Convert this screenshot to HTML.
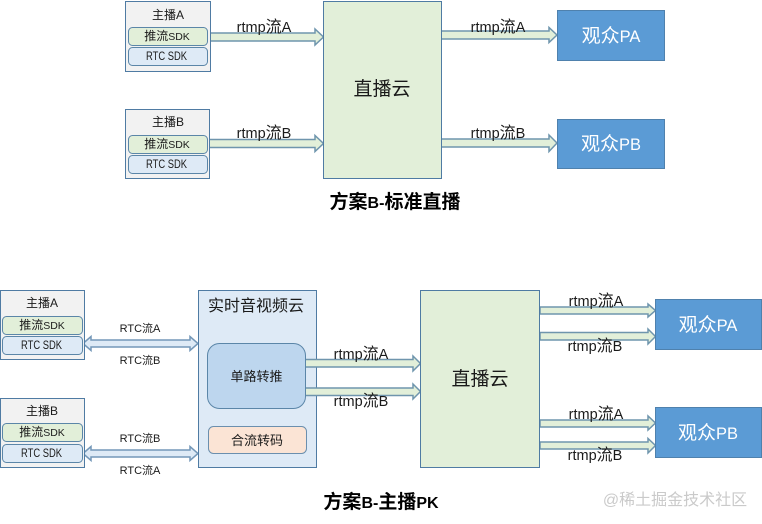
<!DOCTYPE html>
<html><head><meta charset="utf-8">
<style>
html,body{margin:0;padding:0;background:#fff;width:762px;height:524px;overflow:hidden}
svg{display:block}
text{font-family:"Liberation Sans","Noto Sans CJK SC",sans-serif;fill:#1a1a1a;text-anchor:middle}
.b{stroke:#4f7ba3;stroke-width:1}
.host{fill:#f2f2f2}
.push{fill:#e2efd9;stroke:#5b86a8;stroke-width:1}
.rtc{fill:#deeaf6;stroke:#5b86a8;stroke-width:1}
.cloud{fill:#e2efd9}
.view{fill:#5b9bd5;stroke:#4f81ad;stroke-width:1}
.arr{fill:#e2efd9;stroke:#6f95ad;stroke-width:1.5}
.darr{fill:#deeaf6;stroke:#7397b8;stroke-width:1.5}
.s12{font-size:12px}.s11{font-size:12px}
.m{font-size:16px}.m tspan{font-size:14.5px}
.sdk{font-size:12px}.sdk tspan{font-size:10.5px}
.r{font-size:11px}
.v{font-size:19px}.v tspan{font-size:16.5px}
.w{fill:#fff}
.t{font-size:19px;font-weight:bold;fill:#000}.t tspan{font-size:16px}
</style></head><body>
<svg width="762" height="524" viewBox="0 0 762 524" xmlns="http://www.w3.org/2000/svg">
<!-- top arrows -->
<polygon class="arr" points="208,33 315,33 315,29 323.5,37 315,45 315,41 208,41"/>
<polygon class="arr" points="208,139.5 315,139.5 315,135.5 323.5,143.5 315,151.5 315,147.5 208,147.5"/>
<polygon class="arr" points="441,31 549,31 549,27.5 557,35 549,42.5 549,39 441,39"/>
<polygon class="arr" points="441,139 549,139 549,135 557,143 549,151.5 549,147 441,147"/>
<!-- top hosts -->
<rect class="host b" x="125.5" y="1.5" width="85" height="70"/>
<rect class="push" x="128.5" y="27.5" width="79" height="18" rx="4"/>
<rect class="rtc" x="128.5" y="47.5" width="79" height="18" rx="4"/>
<text class="s12" x="168" y="19">主播A</text>
<text class="sdk" x="167" y="40">推流<tspan>SDK</tspan></text>
<text class="s11" x="166.5" y="60" textLength="41" lengthAdjust="spacingAndGlyphs">RTC SDK</text>
<rect class="host b" x="125.5" y="109.5" width="84" height="69"/>
<rect class="push" x="128.5" y="135.5" width="79" height="18" rx="4"/>
<rect class="rtc" x="128.5" y="155.5" width="79" height="18" rx="4"/>
<text class="s12" x="168" y="126">主播B</text>
<text class="sdk" x="167" y="148">推流<tspan>SDK</tspan></text>
<text class="s11" x="166.5" y="168" textLength="41" lengthAdjust="spacingAndGlyphs">RTC SDK</text>
<!-- top cloud and viewers -->
<rect class="cloud b" x="323.5" y="1.5" width="118" height="177"/>
<text style="font-size:19px" x="382" y="95">直播云</text>
<rect class="view" x="557.5" y="10.5" width="107" height="50"/>
<rect class="view" x="557.5" y="119.5" width="107" height="49"/>
<text class="v w" x="611" y="42">观众<tspan class="w">PA</tspan></text>
<text class="v w" x="611" y="150">观众<tspan class="w">PB</tspan></text>
<text class="m" x="264" y="32"><tspan>rtmp</tspan>流<tspan>A</tspan></text>
<text class="m" x="264" y="138"><tspan>rtmp</tspan>流<tspan>B</tspan></text>
<text class="m" x="498" y="32"><tspan>rtmp</tspan>流<tspan>A</tspan></text>
<text class="m" x="498" y="138"><tspan>rtmp</tspan>流<tspan>B</tspan></text>
<text class="t" x="395" y="208">方案<tspan>B-</tspan>标准直播</text>

<!-- bottom double arrows -->
<polygon class="darr" points="83,343.5 91,336.5 91,340 190,340 190,336.5 198,343.5 190,350.5 190,347 91,347 91,350.5"/>
<polygon class="darr" points="83,453.5 91,446.5 91,450 190,450 190,446.5 198,453.5 190,460.5 190,457 91,457 91,460.5"/>
<!-- right arrows -->
<polygon class="arr" points="540,307 648,307 648,304 655.5,310.5 648,317 648,314 540,314"/>
<polygon class="arr" points="540,332.5 648,332.5 648,329 655.5,336.5 648,344 648,340 540,340"/>
<polygon class="arr" points="540,420 648,420 648,416 655.5,423 648,430 648,427 540,427"/>
<polygon class="arr" points="540,442 648,442 648,438.5 655.5,445.5 648,453 648,449 540,449"/>
<!-- bottom hosts -->
<rect class="host b" x="0.5" y="290.5" width="84" height="69"/>
<rect class="push" x="2.5" y="316.5" width="80" height="18" rx="4"/>
<rect class="rtc" x="2.5" y="336.5" width="80" height="18" rx="4"/>
<text class="s12" x="42" y="307">主播A</text>
<text class="sdk" x="42" y="329">推流<tspan>SDK</tspan></text>
<text class="s11" x="41.5" y="349" textLength="41" lengthAdjust="spacingAndGlyphs">RTC SDK</text>
<rect class="host b" x="0.5" y="398.5" width="84" height="69"/>
<rect class="push" x="2.5" y="423.5" width="80" height="18" rx="4"/>
<rect class="rtc" x="2.5" y="444.5" width="80" height="18" rx="4"/>
<text class="s12" x="42" y="415">主播B</text>
<text class="sdk" x="42" y="436">推流<tspan>SDK</tspan></text>
<text class="s11" x="41.5" y="457" textLength="41" lengthAdjust="spacingAndGlyphs">RTC SDK</text>
<text class="r" x="140" y="332">RTC流A</text>
<text class="r" x="140" y="364">RTC流B</text>
<text class="r" x="140" y="442">RTC流B</text>
<text class="r" x="140" y="474">RTC流A</text>
<!-- rtc cloud -->
<rect x="198.5" y="290.5" width="118" height="177" fill="#deeaf6" stroke="#4f7ba3"/>
<text x="256" y="311" style="font-size:16px">实时音视频云</text>
<!-- middle arrows sit above the rtc cloud -->
<polygon class="arr" points="305,359.5 413,359.5 413,356 420.5,363.5 413,371 413,367 305,367"/>
<polygon class="arr" points="305,388 413,388 413,384 420.5,391.5 413,399 413,395.5 305,395.5"/>
<rect x="207.5" y="343.5" width="98" height="65" rx="12" fill="#bdd6ee" stroke="#5b86a8"/>
<text style="font-size:13px" x="256.5" y="381">单路转推</text>
<rect x="208.5" y="426.5" width="98" height="27" rx="5" fill="#fbe4d5" stroke="#6b8fae"/>
<text style="font-size:13px" x="257" y="445">合流转码</text>
<!-- bottom live cloud -->
<rect class="cloud b" x="420.5" y="290.5" width="119" height="177"/>
<text style="font-size:19px" x="480" y="385">直播云</text>
<rect class="view" x="655.5" y="299.5" width="106" height="50"/>
<rect class="view" x="655.5" y="407.5" width="106" height="50"/>
<text class="v w" x="708" y="331">观众<tspan class="w">PA</tspan></text>
<text class="v w" x="708" y="439">观众<tspan class="w">PB</tspan></text>
<text class="m" x="361" y="359"><tspan>rtmp</tspan>流<tspan>A</tspan></text>
<text class="m" x="361" y="406"><tspan>rtmp</tspan>流<tspan>B</tspan></text>
<text class="m" x="596" y="306"><tspan>rtmp</tspan>流<tspan>A</tspan></text>
<text class="m" x="595" y="351"><tspan>rtmp</tspan>流<tspan>B</tspan></text>
<text class="m" x="596" y="419"><tspan>rtmp</tspan>流<tspan>A</tspan></text>
<text class="m" x="595" y="460"><tspan>rtmp</tspan>流<tspan>B</tspan></text>
<text class="t" x="381" y="508">方案<tspan>B-</tspan>主播<tspan>PK</tspan></text>
<text x="675" y="505" style="font-size:16px;fill:#cacaca">@稀土掘金技术社区</text>
</svg>
</body></html>
